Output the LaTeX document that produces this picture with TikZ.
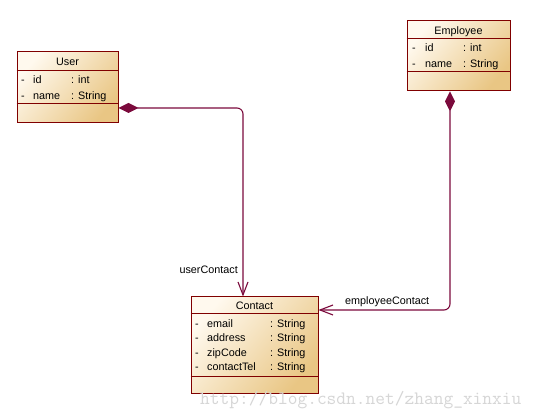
\documentclass[tikz,border=0pt]{standalone}
\usepackage{fontspec}
\setmainfont{Liberation Sans}
\usetikzlibrary{arrows.meta}
\definecolor{boxborder}{HTML}{800000}
\definecolor{connc}{HTML}{7B0A3C}
\definecolor{filltop}{HTML}{FFF9EE}
\definecolor{fillbot}{HTML}{E9C684}
\definecolor{wmc}{HTML}{D6D6D6}
\begin{document}
\begin{tikzpicture}[x=1pt,y=-1pt,
  classbox/.style={rectangle, draw=boxborder, line width=1pt, top color=filltop, bottom color=fillbot, shading angle=50, inner sep=0pt},
  sepline/.style={draw=boxborder, line width=1pt},
  txt/.style={anchor=base west, inner sep=0pt, font=\fontsize{10.8}{13}\selectfont},
  ttl/.style={anchor=base, inner sep=0pt, font=\fontsize{10.8}{13}\selectfont},
  connector/.style={draw=connc, line width=1.1pt, rounded corners=6pt,
    {Diamond[length=20pt,width=10pt,fill=connc]}-{Straight Barb[length=13pt,width=10pt]}},
  ]
\useasboundingbox[fill=white] (0,0) rectangle (542,419);

% User
\node[classbox, minimum width=101pt, minimum height=71pt] (user) at (67.5,87.5) {};
\draw[sepline] ([yshift=-19pt]user.north west) -- ([yshift=-19pt]user.north east);
\draw[sepline] ([yshift=-52pt]user.north west) -- ([yshift=-52pt]user.north east);
\node[ttl] (usert) at (67.5,66) {User};
\node[txt] (u1a) at (21,84) {-};
\node[txt] (u1b) at (33,84) {id};
\node[txt] (u1c) at (71,84) {: int};
\node[txt] (u2a) at (21,99.5) {-};
\node[txt] (u2b) at (33,99.5) {name};
\node[txt] (u2c) at (71,99.5) {: String};

% Employee
\node[classbox, minimum width=103pt, minimum height=70pt] (emp) at (458.5,56) {};
\draw[sepline] ([yshift=-18pt]emp.north west) -- ([yshift=-18pt]emp.north east);
\draw[sepline] ([yshift=-51pt]emp.north west) -- ([yshift=-51pt]emp.north east);
\node[ttl] (empt) at (458.5,34.5) {Employee};
\node[txt] (e1a) at (412,52) {-};
\node[txt] (e1b) at (425,52) {id};
\node[txt] (e1c) at (463,52) {: int};
\node[txt] (e2a) at (412,67.5) {-};
\node[txt] (e2b) at (425,67.5) {name};
\node[txt] (e2c) at (463,67.5) {: String};

% Contact
\node[classbox, minimum width=127pt, minimum height=97pt] (contact) at (254.5,345.5) {};
\draw[sepline] ([yshift=-17pt]contact.north west) -- ([yshift=-17pt]contact.north east);
\draw[sepline] ([yshift=-80pt]contact.north west) -- ([yshift=-80pt]contact.north east);
\node[ttl] (contactt) at (254.5,309.5) {Contact};
\node[txt] (c1a) at (195,327.5) {-};
\node[txt] (c1b) at (207,327.5) {email};
\node[txt] (c1c) at (270,327.5) {: String};
\node[txt] (c2a) at (195,342) {-};
\node[txt] (c2b) at (207,342) {address};
\node[txt] (c2c) at (270,342) {: String};
\node[txt] (c3a) at (195,356.5) {-};
\node[txt] (c3b) at (207,356.5) {zipCode};
\node[txt] (c3c) at (270,356.5) {: String};
\node[txt] (c4a) at (195,371) {-};
\node[txt] (c4b) at (207,371) {contactTel};
\node[txt] (c4c) at (270,371) {: String};

% Connectors
\draw[connector] ([yshift=-20.5pt]user.east) -| ([xshift=-11.5pt]contact.north);
\draw[connector] ([xshift=-8.5pt]emp.south) |- ([yshift=35.5pt]contact.east);

\node[txt, anchor=base east] (ulab) at (238,273.5) {userContact};
\node[txt] (elab) at (345,305) {employeeContact};

% watermark
\node[anchor=base west, inner sep=0pt, text=wmc, font=\ttfamily\fontsize{18.9}{20}\selectfont] (wmark) at (200,405) {http://blog.csdn.net/zhang\_xinxiu};
\end{tikzpicture}
\end{document}
